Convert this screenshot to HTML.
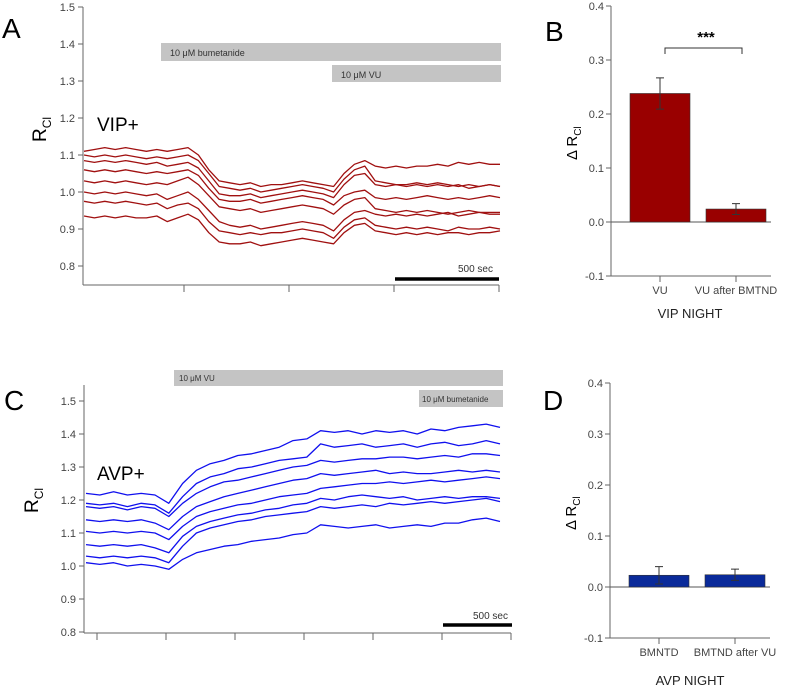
<!DOCTYPE html>
<html><head><meta charset="utf-8">
<style>
html,body{margin:0;padding:0;background:#fff;}
svg{display:block;font-family:"Liberation Sans",sans-serif;}
.tk{font-size:11px;fill:#444;}
.ax{stroke:#666;stroke-width:1;fill:none;}
</style></head>
<body>
<svg id="fig" width="787" height="688" viewBox="0 0 787 688" xmlns="http://www.w3.org/2000/svg">
<g id="pA"></g>
<g id="pB"></g>
<g id="pC"></g>
<g id="pD"></g>
</svg>
<script>
// ---- Panel A data (t step 50 s) ----
const aStep = 50;
const aTrace1 = [1.11,1.115,1.12,1.115,1.12,1.115,1.11,1.115,1.11,1.115,1.12,1.10,1.06,1.03,1.025,1.02,1.025,1.015,1.02,1.02,1.025,1.03,1.025,1.02,1.015,1.05,1.075,1.085,1.07,1.065,1.07,1.065,1.07,1.07,1.075,1.07,1.08,1.075,1.08,1.075,1.075];
const aTrace2 = [1.10,1.095,1.10,1.095,1.10,1.095,1.09,1.095,1.09,1.095,1.10,1.085,1.05,1.015,1.01,1.005,1.01,1.0,1.005,1.01,1.015,1.02,1.015,1.01,1.0,1.035,1.06,1.07,1.03,1.025,1.02,1.02,1.025,1.02,1.025,1.02,1.015,1.02,1.015,1.02,1.015];
const aTrace3 = [1.085,1.08,1.085,1.08,1.085,1.08,1.075,1.08,1.07,1.075,1.08,1.065,1.03,0.995,0.99,0.99,0.995,0.985,0.99,0.995,1.0,1.005,1.0,0.995,0.985,1.02,1.045,1.05,1.02,1.015,1.02,1.015,1.02,1.015,1.02,1.015,1.02,1.01,1.015,1.02,1.015];
const aTrace4 = [1.06,1.055,1.06,1.055,1.06,1.055,1.05,1.055,1.05,1.055,1.06,1.045,1.01,0.98,0.975,0.975,0.98,0.97,0.975,0.98,0.985,0.99,0.985,0.98,0.965,0.99,1.0,1.005,0.985,0.98,0.985,0.98,0.985,0.99,0.985,0.98,0.985,0.98,0.985,0.99,0.985];
const aTrace5 = [1.03,1.025,1.03,1.025,1.03,1.025,1.02,1.025,1.02,1.03,1.04,1.02,0.99,0.96,0.955,0.95,0.955,0.945,0.95,0.955,0.96,0.965,0.96,0.955,0.94,0.965,0.98,0.985,0.955,0.95,0.945,0.95,0.945,0.95,0.945,0.94,0.945,0.95,0.945,0.945,0.945];
const aTrace6 = [1.0,0.995,1.0,0.995,1.0,0.995,0.99,0.995,0.98,0.99,1.0,0.98,0.95,0.92,0.91,0.905,0.91,0.9,0.905,0.91,0.915,0.92,0.915,0.91,0.895,0.925,0.945,0.95,0.94,0.935,0.94,0.935,0.94,0.935,0.94,0.945,0.935,0.94,0.945,0.94,0.94];
const aTrace7 = [0.975,0.97,0.975,0.97,0.975,0.97,0.965,0.97,0.955,0.965,0.97,0.955,0.92,0.895,0.89,0.885,0.89,0.885,0.89,0.89,0.895,0.9,0.895,0.89,0.875,0.905,0.925,0.93,0.91,0.905,0.90,0.905,0.90,0.905,0.90,0.895,0.905,0.90,0.90,0.905,0.90];
const aTrace8 = [0.935,0.93,0.935,0.93,0.935,0.93,0.93,0.935,0.92,0.93,0.94,0.925,0.89,0.865,0.86,0.86,0.865,0.855,0.86,0.865,0.87,0.875,0.87,0.865,0.86,0.89,0.91,0.915,0.895,0.89,0.885,0.89,0.885,0.89,0.885,0.89,0.89,0.885,0.89,0.89,0.895];
const aYTicks = ["0.8","0.9","1.0","1.1","1.2","1.3","1.4","1.5"];
// ---- Panel C data (t step 100 s) ----
const cStep = 100;
const cTrace1 = [1.22,1.215,1.225,1.215,1.22,1.215,1.19,1.25,1.29,1.31,1.32,1.335,1.34,1.35,1.36,1.38,1.385,1.41,1.405,1.41,1.40,1.41,1.405,1.41,1.40,1.415,1.41,1.42,1.425,1.43,1.42];
const cTrace2 = [1.19,1.185,1.19,1.18,1.19,1.185,1.16,1.21,1.25,1.27,1.28,1.295,1.30,1.31,1.32,1.325,1.33,1.37,1.36,1.365,1.37,1.36,1.365,1.37,1.36,1.37,1.375,1.365,1.37,1.38,1.37];
const cTrace3 = [1.18,1.175,1.18,1.17,1.18,1.175,1.15,1.19,1.22,1.24,1.255,1.26,1.27,1.28,1.29,1.30,1.305,1.32,1.315,1.32,1.325,1.325,1.33,1.33,1.325,1.33,1.335,1.33,1.34,1.34,1.335];
const cTrace4 = [1.14,1.135,1.14,1.135,1.14,1.13,1.11,1.15,1.18,1.195,1.21,1.22,1.23,1.24,1.25,1.26,1.265,1.28,1.275,1.28,1.285,1.29,1.28,1.285,1.28,1.28,1.285,1.29,1.285,1.29,1.285];
const cTrace5 = [1.105,1.10,1.105,1.10,1.105,1.10,1.08,1.12,1.15,1.165,1.175,1.185,1.19,1.20,1.21,1.215,1.22,1.235,1.24,1.245,1.25,1.25,1.255,1.25,1.255,1.26,1.255,1.26,1.265,1.27,1.265];
const cTrace6 = [1.065,1.06,1.065,1.06,1.065,1.055,1.04,1.09,1.12,1.135,1.145,1.155,1.16,1.17,1.175,1.185,1.19,1.205,1.20,1.21,1.215,1.21,1.205,1.21,1.20,1.205,1.21,1.205,1.21,1.21,1.205];
const cTrace7 = [1.03,1.025,1.03,1.025,1.03,1.025,1.01,1.06,1.10,1.115,1.125,1.135,1.14,1.15,1.155,1.16,1.165,1.18,1.175,1.18,1.185,1.18,1.19,1.185,1.19,1.195,1.19,1.195,1.20,1.205,1.195];
const cTrace8 = [1.01,1.005,1.01,1.0,1.005,1.0,0.99,1.02,1.04,1.05,1.06,1.065,1.075,1.08,1.085,1.095,1.10,1.125,1.12,1.115,1.12,1.125,1.115,1.12,1.125,1.12,1.13,1.13,1.14,1.145,1.135];
const cYTicks = ["0.8","0.9","1.0","1.1","1.2","1.3","1.4","1.5"];
// ---- Panel B / D bar data ----
const bCategories = ["VU","VU after BMTND"];
const bValues = [0.238,0.024];
const bErrors = [0.029,0.010];
const dCategories = ["BMNTD","BMTND after VU"];
const dValues = [0.023,0.024];
const dErrors = [0.017,0.011];
const barYTicks = ["-0.1","0.0","0.1","0.2","0.3","0.4"];

const NS="http://www.w3.org/2000/svg";
function mk(parent,tag,attrs,text){const e=document.createElementNS(NS,tag);for(const k in attrs)e.setAttribute(k,attrs[k]);if(text!==undefined)e.textContent=text;parent.appendChild(e);return e;}

function tracePanel(g,cfg){
  const yS=v=>cfg.y0+(v-0.8)*(cfg.y1-cfg.y0)/0.7;
  const xS=t=>cfg.x0+t*cfg.pxPer500/500;
  let e;
  e=mk(g,'line',{x1:cfg.ax,y1:cfg.axTop,x2:cfg.ax,y2:cfg.axBot,class:'ax'});
  
  
  cfg.yTicks.forEach(lbl=>{const y=yS(parseFloat(lbl));
    e=mk(g,'line',{x1:cfg.ax-5,y1:y,x2:cfg.ax,y2:y,class:'ax'});
    
    
    e=mk(g,'text',{x:cfg.ax-8,y:y+4,'text-anchor':'end',class:'tk'},lbl);
    
    
  });
  e=mk(g,'line',{x1:cfg.ax,y1:cfg.axBot,x2:cfg.xTicks[cfg.xTicks.length-1],y2:cfg.axBot,class:'ax'});
  
  
  cfg.xTicks.forEach(x=>{e=mk(g,'line',{x1:x,y1:cfg.axBot,x2:x,y2:cfg.axBot+7,class:'ax'});
    
    });
  cfg.traces.forEach((arr,i)=>{
    const pts=arr.map((v,k)=>xS(k*cfg.step).toFixed(1)+','+yS(v).toFixed(1)).join(' ');
    e=mk(g,'polyline',{points:pts,fill:'none',stroke:cfg.color,'stroke-width':1.3,'stroke-linejoin':'round'});
    
    
  });
}

function barPanel(g,cfg){
  const yS=v=>cfg.yZero-v*cfg.pxPerTenth*10;
  let e;
  e=mk(g,'line',{x1:cfg.ax,y1:yS(0.4),x2:cfg.ax,y2:yS(-0.1),class:'ax'});
  
  
  barYTicks.forEach(lbl=>{const y=yS(parseFloat(lbl));
    e=mk(g,'line',{x1:cfg.ax-5,y1:y,x2:cfg.ax,y2:y,class:'ax'});
    
    
    e=mk(g,'text',{x:cfg.ax-7,y:y+4,'text-anchor':'end',class:'tk'},lbl);
    
    
  });
  e=mk(g,'line',{x1:cfg.ax,y1:yS(-0.1),x2:cfg.ax+160,y2:yS(-0.1),class:'ax'});
  
  
  e=mk(g,'line',{x1:cfg.ax,y1:yS(0),x2:cfg.ax+160,y2:yS(0),stroke:'#555','stroke-width':1});
  
  
  cfg.cats.forEach((c,i)=>{
    const cx=cfg.ax+49+i*76;
    e=mk(g,'line',{x1:cx,y1:yS(-0.1),x2:cx,y2:yS(-0.1)+6,class:'ax'});
    
    
    e=mk(g,'text',{x:cx,y:yS(-0.1)+18,'text-anchor':'middle',class:'tk'},c);
    
    
    const v=cfg.vals[i],er=cfg.errs[i];
    e=mk(g,'rect',{x:cx-30,y:yS(v),width:60,height:yS(0)-yS(v),fill:cfg.color,stroke:'#333','stroke-width':0.6});
    
    
    e=mk(g,'path',{d:`M${cx-4},${yS(v+er)}H${cx+4}M${cx},${yS(v+er)}V${yS(v-er)}M${cx-4},${yS(v-er)}H${cx+4}`,stroke:'#333','stroke-width':1,fill:'none'});
    
    
  });
}

const pA=document.getElementById('pA'),pB=document.getElementById('pB'),pC=document.getElementById('pC'),pD=document.getElementById('pD');
tracePanel(pA,{ax:83,axTop:7,axBot:285,y0:266,y1:7,x0:84,pxPer500:104,step:aStep,xTicks:[184,289,394,499],yTicks:aYTicks,color:'#a01010',
  traces:[aTrace1,aTrace2,aTrace3,aTrace4,aTrace5,aTrace6,aTrace7,aTrace8]});
tracePanel(pC,{ax:84,axTop:385,axBot:633,y0:632,y1:401,x0:86,pxPer500:69,step:cStep,xTicks:[97,166,235,304,373,442,511],yTicks:cYTicks,color:'#1010ee',
  traces:[cTrace1,cTrace2,cTrace3,cTrace4,cTrace5,cTrace6,cTrace7,cTrace8]});
barPanel(pB,{ax:611,yZero:222,pxPerTenth:54,cats:bCategories,vals:bValues,errs:bErrors,color:'#990000'});
barPanel(pD,{ax:610,yZero:587,pxPerTenth:51,cats:dCategories,vals:dValues,errs:dErrors,color:'#0a2a9a'});
</script>
<svg width="787" height="688" style="position:absolute;left:0;top:0" xmlns="http://www.w3.org/2000/svg">
  <text x="2" y="38" font-size="28" font-family="Liberation Sans,sans-serif">A</text>
  <text x="545" y="41" font-size="28" font-family="Liberation Sans,sans-serif">B</text>
  <text x="4" y="410" font-size="28" font-family="Liberation Sans,sans-serif">C</text>
  <text x="543" y="410" font-size="28" font-family="Liberation Sans,sans-serif">D</text>
  <rect x="161" y="43" width="340" height="18" fill="#c4c4c4"/>
  <text x="170" y="56" font-size="9" font-family="Liberation Sans,sans-serif" fill="#333">10 μM bumetanide</text>
  <rect x="332" y="65" width="169" height="17" fill="#c4c4c4"/>
  <text x="341" y="78" font-size="9" font-family="Liberation Sans,sans-serif" fill="#333">10 μM VU</text>
  <text x="97" y="131" font-size="19" font-family="Liberation Sans,sans-serif">VIP+</text>
  <text transform="translate(46,142) rotate(-90)" font-size="19" font-family="Liberation Sans,sans-serif">R<tspan font-size="12" dy="5">Cl</tspan></text>
  <line x1="395" y1="279" x2="499" y2="279" stroke="#000" stroke-width="3.5"/>
  <text x="493" y="272" text-anchor="end" font-size="10" font-family="Liberation Sans,sans-serif" fill="#333">500 sec</text>

  <rect x="174" y="370" width="329" height="16" fill="#c4c4c4"/>
  <text x="179" y="381" font-size="8" font-family="Liberation Sans,sans-serif" fill="#333">10 μM VU</text>
  <rect x="419" y="390" width="84" height="17" fill="#c4c4c4"/>
  <text x="422" y="402" font-size="8" font-family="Liberation Sans,sans-serif" fill="#333">10 μM bumetanide</text>
  <text x="97" y="480" font-size="19" font-family="Liberation Sans,sans-serif">AVP+</text>
  <text transform="translate(38,513) rotate(-90)" font-size="19" font-family="Liberation Sans,sans-serif">R<tspan font-size="12" dy="5">Cl</tspan></text>
  <line x1="443" y1="625" x2="512" y2="625" stroke="#000" stroke-width="3.5"/>
  <text x="508" y="619" text-anchor="end" font-size="10" font-family="Liberation Sans,sans-serif" fill="#333">500 sec</text>

  <text transform="translate(577,160) rotate(-90)" font-size="15" font-family="Liberation Sans,sans-serif">Δ R<tspan font-size="10" dy="4">Cl</tspan></text>
  <path d="M665,54V48H742V54" fill="none" stroke="#333" stroke-width="1"/>
  <text x="706" y="42" text-anchor="middle" font-size="15" font-weight="bold" font-family="Liberation Sans,sans-serif">***</text>
  <text x="690" y="318" text-anchor="middle" font-size="13" font-family="Liberation Sans,sans-serif" fill="#222">VIP NIGHT</text>
  <text transform="translate(576,530) rotate(-90)" font-size="15" font-family="Liberation Sans,sans-serif">Δ R<tspan font-size="10" dy="4">Cl</tspan></text>
  <text x="690" y="685" text-anchor="middle" font-size="13" font-family="Liberation Sans,sans-serif" fill="#222">AVP NIGHT</text>
</svg>
</body></html>
